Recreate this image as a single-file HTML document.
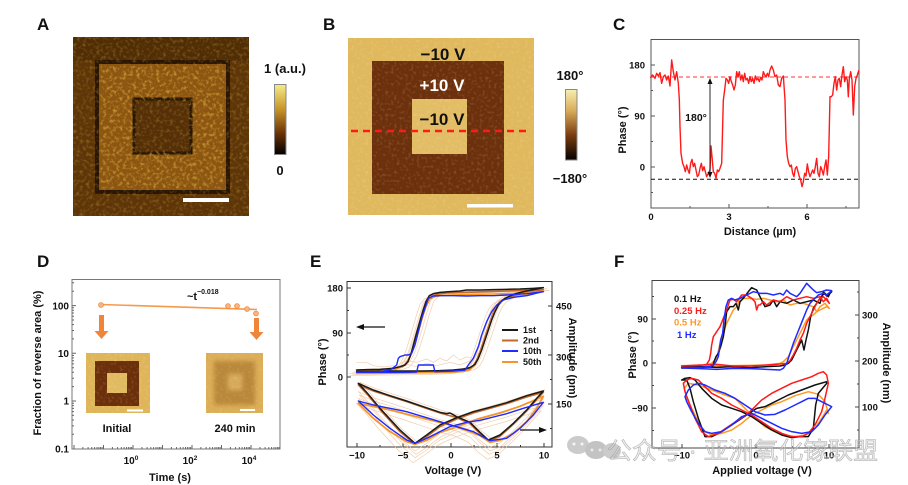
<!DOCTYPE html>
<html><head><meta charset="utf-8">
<style>
html,body{margin:0;padding:0;background:#fff;}
svg{display:block;}
.t{font-family:"Liberation Sans",Arial,"Noto Sans CJK SC",sans-serif;font-weight:bold;fill:#111;}
.ln{fill:none;stroke-linejoin:round;stroke-linecap:round;}
</style></head>
<body>
<svg width="908" height="485" viewBox="0 0 908 485" xmlns="http://www.w3.org/2000/svg">
<defs>
<linearGradient id="cbA" x1="0" y1="0" x2="0" y2="1">
<stop offset="0" stop-color="#f6ec88"/><stop offset="0.35" stop-color="#c8952a"/><stop offset="0.7" stop-color="#6a3206"/><stop offset="1" stop-color="#000"/>
</linearGradient>
<linearGradient id="cbB" x1="0" y1="0" x2="0" y2="1">
<stop offset="0" stop-color="#f7efb0"/><stop offset="0.3" stop-color="#d9ac5a"/><stop offset="0.65" stop-color="#7a3c10"/><stop offset="1" stop-color="#050200"/>
</linearGradient>
<filter id="nz" x="0" y="0" width="1" height="1">
<feTurbulence type="fractalNoise" baseFrequency="0.3" numOctaves="2" seed="7" result="t"/>
<feColorMatrix in="t" type="matrix" values="0 0 0 0 0.95  0 0 0 0 0.66  0 0 0 0 0.08  2.4 0 0 0 -1.15"/>
</filter>
<filter id="nz2" x="0" y="0" width="1" height="1">
<feTurbulence type="fractalNoise" baseFrequency="0.35" numOctaves="1" seed="3" result="t"/>
<feColorMatrix in="t" type="matrix" values="0 0 0 0 1  0 0 0 0 0.92  0 0 0 0 0.6  2.4 0 0 0 -1.2"/>
</filter>
<filter id="bl" x="-20%" y="-20%" width="140%" height="140%"><feGaussianBlur stdDeviation="2"/></filter>
<g id="dxm" stroke="#666" stroke-width="1">
<path d="M8.9 0v-2M14.1 0v-2M17.8 0v-2M20.6 0v-2M23 0v-2M24.9 0v-2M26.6 0v-2M28.1 0v-2"/>
</g>
<g id="dym" stroke="#666" stroke-width="1">
<path d="M0 -14.4h2M0 -22.8h2M0 -28.7h2M0 -33.3h2M0 -37.1h2M0 -40.3h2M0 -43.1h2M0 -45.5h2"/>
</g>
<polyline id="e2p" class="ln" vector-effect="non-scaling-stroke" points="50,294 150,292 250,291 330,289 365,287 385,282 400,272 410,255 420,230 430,200 440,170 450,140 460,112 470,92 480,80 495,70 520,62 560,52 610,44 560,46 500,48 440,50 380,52 320,54 290,58 275,64 262,80 252,110 242,145 232,180 222,212 212,240 200,262 188,275 170,281 130,285 50,288"/>
<polyline id="e2a" class="ln" vector-effect="non-scaling-stroke" points="55,330 100,348 150,364 200,380 250,397 300,414 350,428 390,446 420,476 448,498 480,484 520,448 560,408 590,374 610,352 560,366 500,386 450,400 400,414 350,432 300,455 260,485 225,508 180,470 120,404 80,356 55,330"/>
</defs>

<!-- ===== Panel A ===== -->
<text class="t" x="37" y="30" font-size="17">A</text>
<rect x="73" y="37" width="176" height="179" fill="#5e3508"/>
<rect x="73" y="37" width="176" height="24" fill="#4a2805" opacity="0.6"/>
<rect x="97" y="62" width="131" height="130" fill="#8c5512" stroke="#2a1503" stroke-width="4"/>
<rect x="134" y="99" width="57" height="54" fill="#553008" stroke="#2a1503" stroke-width="3"/>
<rect x="73" y="37" width="176" height="179" filter="url(#nz)" opacity="0.3"/>
<rect x="101" y="66" width="123" height="122" filter="url(#nz)" opacity="0.4"/>
<rect x="136" y="101" width="53" height="50" fill="#553008" opacity="0.55"/>
<rect x="183" y="198" width="46" height="4" fill="#fff"/>
<rect x="274.5" y="84.5" width="11.5" height="70" fill="url(#cbA)" stroke="#888" stroke-width="1"/>
<text class="t" x="285" y="73" font-size="13" text-anchor="middle">1 (a.u.)</text>
<text class="t" x="280" y="175" font-size="13" text-anchor="middle">0</text>

<!-- ===== Panel B ===== -->
<text class="t" x="323" y="30" font-size="17">B</text>
<rect x="348" y="38" width="186" height="177" fill="#e0b95e"/>
<rect x="372" y="61" width="132" height="133" fill="#6c300c"/>
<rect x="412" y="99" width="55" height="55" fill="#e2bd66"/>
<rect x="348" y="38" width="186" height="177" filter="url(#nz2)" opacity="0.2"/>
<line x1="351" y1="131" x2="527" y2="131" stroke="#ff1a1a" stroke-width="2.6" stroke-dasharray="7,5"/>
<text class="t" x="443" y="60" font-size="17" text-anchor="middle">−10 V</text>
<text class="t" x="442" y="91" font-size="17" text-anchor="middle" style="fill:#fff">+10 V</text>
<text class="t" x="442" y="125" font-size="17" text-anchor="middle">−10 V</text>
<rect x="467" y="204" width="46" height="3.5" fill="#fff"/>
<rect x="565.5" y="89.5" width="11.5" height="70.5" fill="url(#cbB)" stroke="#888" stroke-width="1"/>
<text class="t" x="570" y="80" font-size="13" text-anchor="middle">180°</text>
<text class="t" x="570" y="183" font-size="13" text-anchor="middle">−180°</text>

<!-- ===== Panel C ===== -->
<text class="t" x="613" y="30" font-size="17">C</text>
<rect x="651" y="39.5" width="208" height="168.5" fill="none" stroke="#555" stroke-width="1"/>
<path d="M651 65h4M651 116h4M651 167h4M651 90.5h2M651 141.5h2M651 192.5h2M651 39.5h2M651 208v-4M729 208v-4M807 208v-4M690 208v-2M768 208v-2M846 208v-2" stroke="#555" stroke-width="1" fill="none"/>
<line x1="651" y1="77" x2="859" y2="77" stroke="#ff3030" stroke-width="1" stroke-dasharray="4,3"/>
<line x1="651" y1="179.3" x2="859" y2="179.3" stroke="#111" stroke-width="1" stroke-dasharray="4,3"/>
<g transform="translate(600,0) scale(0.33333)">
<polyline class="ln" vector-effect="non-scaling-stroke" stroke="#ff1a1a" stroke-width="1.4" points="152,232 158,225 165,235 170,220 175,228 180,218 185,250 190,230 195,225 200,240 205,228 210,258 215,180 220,215 225,240 230,215 235,250 238,300 240,380 243,460 248,490 252,500 256,515 260,495 264,510 268,520 272,490 276,478 280,500 284,490 288,510 292,530 296,525 300,505 304,490 308,512 312,500 316,515 320,530 325,520 330,510 333,438 336,470 340,515 344,520 348,535 352,510 356,515 360,505 365,490 370,300 374,270 378,235 382,240 386,250 390,230 394,245 398,255 402,270 406,255 410,215 414,230 418,215 422,240 426,225 430,245 434,220 438,240 442,235 446,250 450,230 454,245 458,235 462,250 466,228 470,240 474,235 478,245 482,232 486,240 490,215 494,225 498,230 502,220 506,230 510,210 515,198 520,210 525,230 530,225 535,255 540,260 545,235 550,228 555,300 558,420 562,470 566,490 570,500 574,495 578,520 582,530 586,505 590,500 594,515 598,530 602,540 606,560 610,545 614,520 618,528 622,492 626,515 630,530 634,520 638,510 642,520 646,500 650,475 654,520 658,530 662,500 666,510 670,525 674,500 678,480 682,525 686,470 690,290 694,290 698,285 702,250 706,230 710,270 714,240 718,235 722,260 726,225 730,200 734,245 738,230 742,240 745,290 748,235 752,215 756,240 760,345 764,260 768,235 772,225 776,212"/>
</g>
<line x1="710" y1="80" x2="710" y2="176" stroke="#111" stroke-width="0.9"/>
<path d="M707.5 84L710 78L712.5 84ZM707.5 172L710 178L712.5 172Z" fill="#111"/>
<text class="t" x="696" y="121" font-size="10.5" text-anchor="middle">180°</text>
<text class="t" x="645" y="68.5" font-size="9.5" text-anchor="end">180</text>
<text class="t" x="645" y="119.5" font-size="9.5" text-anchor="end">90</text>
<text class="t" x="645" y="170.5" font-size="9.5" text-anchor="end">0</text>
<text class="t" x="651" y="220" font-size="9.5" text-anchor="middle">0</text>
<text class="t" x="729" y="220" font-size="9.5" text-anchor="middle">3</text>
<text class="t" x="807" y="220" font-size="9.5" text-anchor="middle">6</text>
<text class="t" x="626" y="130" font-size="11" text-anchor="middle" transform="rotate(-90 626 130)">Phase (°)</text>
<text class="t" x="760" y="235" font-size="11" text-anchor="middle">Distance (µm)</text>

<!-- ===== Panel D ===== -->
<text class="t" x="37" y="267" font-size="17">D</text>
<rect x="72" y="279.5" width="208" height="169.5" fill="none" stroke="#777" stroke-width="1"/>
<path d="M72 305.6h4M72 353.3h4M72 401h4M74 449v-4M103.5 449v-4M133 449v-4M162.5 449v-4M192 449v-4M221.5 449v-4M251 449v-4" stroke="#666" stroke-width="1"/>
<use href="#dym" x="72" y="448.7"/><use href="#dym" x="72" y="401"/><use href="#dym" x="72" y="353.3"/>
<path d="M72 291.2h2M72 282.8h2" stroke="#666" stroke-width="1"/>
<use href="#dxm" x="74" y="449"/><use href="#dxm" x="103.5" y="449"/><use href="#dxm" x="133" y="449"/><use href="#dxm" x="162.5" y="449"/><use href="#dxm" x="192" y="449"/><use href="#dxm" x="221.5" y="449"/><use href="#dxm" x="251" y="449"/>
<line x1="101" y1="304.5" x2="257" y2="309.5" stroke="#f59a4a" stroke-width="1.6"/>
<g fill="#f7b58a" stroke="#f08a40" stroke-width="0.8">
<circle cx="101" cy="305" r="2.4"/><circle cx="228" cy="306" r="2.4"/><circle cx="237" cy="306" r="2.4"/><circle cx="247" cy="309" r="2.4"/><circle cx="256" cy="313.5" r="2.4"/>
</g>
<path d="M99 315h5v16h4.5l-7 8l-7-8h4.5Z" fill="#f0853a"/>
<path d="M254 318h5v14h4.5l-7 8l-7-8h4.5Z" fill="#f0853a"/>
<text class="t" x="187" y="300" font-size="11">~t</text>
<text class="t" x="197" y="294" font-size="7">−0.018</text>
<rect x="86" y="353" width="64" height="60" fill="#dfb55a"/>
<rect x="95" y="361" width="44" height="45" fill="#6b2f0a"/>
<rect x="107" y="373" width="20" height="20" fill="#e2ba62"/>
<rect x="86" y="353" width="64" height="60" filter="url(#nz2)" opacity="0.2"/>
<rect x="127" y="409.5" width="16" height="2" fill="#fff"/>
<rect x="206" y="353" width="57" height="60" fill="#dcae58"/>
<g filter="url(#bl)">
<rect x="214" y="361" width="41" height="44" fill="#b9883a"/>
<rect x="228" y="374" width="14" height="16" fill="#d8ab5a"/>
</g>
<rect x="206" y="353" width="57" height="60" filter="url(#nz2)" opacity="0.15"/>
<rect x="240" y="409" width="15" height="2" fill="#fff"/>
<text class="t" x="117" y="432" font-size="11" text-anchor="middle">Initial</text>
<text class="t" x="235" y="432" font-size="11" text-anchor="middle">240 min</text>
<text class="t" x="69" y="309.5" font-size="10" text-anchor="end">100</text>
<text class="t" x="69" y="357" font-size="10" text-anchor="end">10</text>
<text class="t" x="69" y="404.5" font-size="10" text-anchor="end">1</text>
<text class="t" x="69" y="452.5" font-size="10" text-anchor="end">0.1</text>
<text class="t" x="131" y="464" font-size="10" text-anchor="middle">10<tspan font-size="6.5" dy="-4">0</tspan></text>
<text class="t" x="190" y="464" font-size="10" text-anchor="middle">10<tspan font-size="6.5" dy="-4">2</tspan></text>
<text class="t" x="249" y="464" font-size="10" text-anchor="middle">10<tspan font-size="6.5" dy="-4">4</tspan></text>
<text class="t" x="170" y="481" font-size="11" text-anchor="middle">Time (s)</text>
<text class="t" x="41" y="363" font-size="11" text-anchor="middle" transform="rotate(-90 41 363)">Fraction of reverse area (%)</text>

<!-- ===== Panel E ===== -->
<text class="t" x="310" y="267" font-size="17">E</text>
<rect x="347" y="281.5" width="205" height="165.5" fill="none" stroke="#333" stroke-width="1"/>
<path d="M347 288h4M347 333h4M347 377h4M347 310.5h2M347 355h2M552 306h-4M552 355h-4M552 404h-4M552 330.5h-2M552 379.5h-2M552 428.5h-2M357 447v-4M403 447v-4M451 447v-4M497 447v-4M544 447v-4M380 447v-2M427 447v-2M474 447v-2M520.5 447v-2" stroke="#333" stroke-width="1"/>
<g transform="translate(340,275) scale(0.33333)">
<g stroke="#eec29a" stroke-width="0.7" opacity="0.8">
<use href="#e2p" x="-12" y="4"/><use href="#e2p" x="10" y="-3"/><use href="#e2p" x="-22" y="8"/><use href="#e2p" x="18" y="2"/><use href="#e2p" x="-6" y="-4"/>
<use href="#e2a" x="0" y="20"/><use href="#e2a" x="0" y="40"/><use href="#e2a" x="-6" y="55"/><use href="#e2a" x="5" y="-8"/><use href="#e2a" x="3" y="30"/>
<polyline class="ln" vector-effect="non-scaling-stroke" points="180,265 200,258 230,262 260,252 280,262 300,250 320,258 340,240 360,255 380,245 400,250 420,230"/>
<polyline class="ln" vector-effect="non-scaling-stroke" points="50,262 80,262 100,272 130,276 160,272"/>
<polyline class="ln" vector-effect="non-scaling-stroke" points="200,268 230,275 260,265 290,272 330,262 360,270 390,258"/>
</g>
<use href="#e2p" stroke="#c4692c" stroke-width="1.6"/>
<use href="#e2a" stroke="#c4692c" stroke-width="1.6"/>
<polyline class="ln" vector-effect="non-scaling-stroke" stroke="#f5952a" stroke-width="1.5" points="50,296 200,294 330,292 370,290 390,284 403,272 412,255 422,230 432,200 442,170 452,140 462,112 472,92 482,80 497,72 530,65 570,57 610,50 570,52 520,55 460,57 400,58 340,60 300,62 285,65 270,72 258,95 248,125 238,160 228,195 218,225 208,250 195,268 180,278 150,284 100,288 50,290"/>
<polyline class="ln" vector-effect="non-scaling-stroke" stroke="#f5952a" stroke-width="1.8" points="55,385 100,430 150,470 200,500 225,508 260,496 300,472 350,456 420,430 480,414 540,394 610,364 590,400 560,440 520,475 480,496 450,502 420,482 380,466 330,450 250,430 150,405 55,385"/>
<polyline class="ln" vector-effect="non-scaling-stroke" stroke="#1a1a1a" stroke-width="1.5" points="50,290 100,289 150,288 200,288 250,288 300,287 340,285 370,282 390,278 405,268 415,250 425,225 435,195 445,165 455,135 465,110 475,90 485,78 495,70 510,63 530,55 560,48 590,42 610,38 580,40 540,42 500,43 460,44 420,45 380,45 360,48 330,50 300,52 280,56 268,62 258,80 248,110 238,145 228,180 220,210 212,240 204,260 195,270 180,275 160,280 120,283 80,284 50,285"/>
<polyline class="ln" vector-effect="non-scaling-stroke" stroke="#1a1a1a" stroke-width="1.5" points="55,325 100,345 150,362 200,378 250,395 300,412 320,416 330,414 350,425 390,442 420,472 445,495 480,480 520,445 560,405 590,370 610,348 560,362 500,383 450,397 400,410 350,428 300,450 260,480 225,505 180,465 120,400 80,352 55,325"/>
<polyline class="ln" vector-effect="non-scaling-stroke" stroke="#1f2bff" stroke-width="1.4" points="50,292 120,292 200,292 230,291 235,270 280,270 285,290 340,288 375,285 385,270 400,250 415,215 425,180 440,140 455,110 470,90 490,75 520,67 560,62 600,52 610,50 570,55 530,58 500,60 460,62 420,62 380,63 340,62 300,62 280,63 265,70 255,100 245,130 235,170 225,210 215,235 205,240 195,240 180,245 175,250 170,270 150,285 120,290 80,291 50,291"/>
<polyline class="ln" vector-effect="non-scaling-stroke" stroke="#1f2bff" stroke-width="1.4" points="55,378 100,420 150,460 200,495 225,505 260,490 300,470 330,455 380,442 420,436 460,426 500,416 550,400 610,382 580,420 540,460 500,490 450,497 400,470 350,455 300,440 250,425 200,410 150,400 100,390 55,378"/>
</g>
<line x1="362" y1="327" x2="385" y2="327" stroke="#111" stroke-width="1.2"/>
<path d="M356 327L364 324V330Z" fill="#111"/>
<line x1="520" y1="430" x2="541" y2="430" stroke="#111" stroke-width="1.2"/>
<path d="M547 430L539 427V433Z" fill="#111"/>
<line x1="502" y1="330" x2="518" y2="330" stroke="#1a1a1a" stroke-width="2"/>
<line x1="502" y1="340.5" x2="518" y2="340.5" stroke="#c4692c" stroke-width="2"/>
<line x1="502" y1="351" x2="518" y2="351" stroke="#1f2bff" stroke-width="2"/>
<line x1="502" y1="362" x2="518" y2="362" stroke="#f5952a" stroke-width="2"/>
<text class="t" x="523" y="333" font-size="9">1st</text>
<text class="t" x="523" y="343.5" font-size="9">2nd</text>
<text class="t" x="523" y="354" font-size="9">10th</text>
<text class="t" x="523" y="365" font-size="9">50th</text>
<text class="t" x="343" y="291.5" font-size="9.5" text-anchor="end">180</text>
<text class="t" x="343" y="336.5" font-size="9.5" text-anchor="end">90</text>
<text class="t" x="343" y="380.5" font-size="9.5" text-anchor="end">0</text>
<text class="t" x="556" y="309.5" font-size="9.5">450</text>
<text class="t" x="556" y="360.5" font-size="9.5">300</text>
<text class="t" x="556" y="407.5" font-size="9.5">150</text>
<text class="t" x="357" y="458.5" font-size="9.5" text-anchor="middle">−10</text>
<text class="t" x="403" y="458.5" font-size="9.5" text-anchor="middle">−5</text>
<text class="t" x="451" y="458.5" font-size="9.5" text-anchor="middle">0</text>
<text class="t" x="497" y="458.5" font-size="9.5" text-anchor="middle">5</text>
<text class="t" x="544" y="458.5" font-size="9.5" text-anchor="middle">10</text>
<text class="t" x="326" y="362" font-size="11" text-anchor="middle" transform="rotate(-90 326 362)">Phase (°)</text>
<text class="t" x="569" y="358" font-size="11" text-anchor="middle" transform="rotate(90 569 358)">Amplitude (pm)</text>
<text class="t" x="453" y="474" font-size="11" text-anchor="middle">Voltage (V)</text>

<!-- ===== Panel F ===== -->
<text class="t" x="614" y="267" font-size="17">F</text>
<rect x="652" y="280.5" width="207" height="167.5" fill="none" stroke="#444" stroke-width="1"/>
<path d="M652 319h4M652 363h4M652 408h4M652 296.5h2M652 341h2M652 385.5h2M652 430.5h2M859 315h-4M859 361h-4M859 407h-4M859 292h-2M859 338h-2M859 384h-2M859 430h-2M682 448v-4M756 448v-4M829 448v-4M719 448v-2M792.5 448v-2" stroke="#444" stroke-width="1"/>
<g transform="translate(600,240) scale(0.33333)">
<polyline class="ln" vector-effect="non-scaling-stroke" stroke="#ff9a20" stroke-width="1.5" points="245,377 300,376 350,378 400,377 450,376 500,375 540,370 550,365 565,350 575,330 585,310 600,280 610,260 620,240 630,230 640,225 650,215 660,210 670,205 680,200 688,205 675,190 660,200 650,215 640,200 625,195 610,190 590,190 570,195 550,180 530,185 510,180 490,175 470,178 450,175 430,175 420,175 410,200 400,210 390,230 380,250 372,270 365,290 358,320 352,345 345,360 335,370 300,378 245,378"/>
<polyline class="ln" vector-effect="non-scaling-stroke" stroke="#111" stroke-width="1.5" points="245,382 300,380 350,382 400,380 450,383 500,380 540,378 555,375 565,370 575,360 585,340 595,320 605,300 612,330 618,300 625,270 632,230 640,205 650,190 660,175 668,165 675,160 685,170 690,160 695,155 680,168 670,155 660,190 650,185 640,180 620,185 600,190 580,180 560,190 540,185 530,200 520,180 510,195 495,200 480,170 470,150 455,143 445,155 430,175 420,185 415,210 408,190 400,200 390,200 380,215 375,260 370,290 362,320 355,340 348,350 342,365 338,378 330,380 300,383 245,384"/>
<polyline class="ln" vector-effect="non-scaling-stroke" stroke="#ff1a1a" stroke-width="1.5" points="245,378 300,375 350,373 400,378 450,378 500,375 540,372 560,370 570,362 580,345 590,325 600,300 610,280 620,250 630,230 640,210 650,190 660,175 670,170 680,180 688,190 680,175 670,185 660,170 640,175 620,170 600,175 580,180 560,170 540,185 520,180 500,195 490,185 480,195 475,195 470,210 465,185 455,175 440,165 425,165 410,185 400,178 390,180 380,210 370,235 360,260 350,275 340,290 335,315 332,340 328,360 320,373 300,376 245,378"/>
<polyline class="ln" vector-effect="non-scaling-stroke" stroke="#1f2bff" stroke-width="1.5" points="245,384 300,386 350,388 400,385 450,386 500,388 540,390 550,385 560,370 570,340 580,310 590,285 600,260 610,235 620,210 630,190 640,180 655,165 670,160 680,165 695,152 680,150 665,155 650,158 640,150 630,140 620,130 610,145 600,160 590,170 580,165 570,160 560,150 550,165 540,160 520,165 500,160 480,160 460,155 440,165 420,175 405,180 395,175 385,180 378,200 372,240 368,280 362,300 355,350 348,365 340,375 330,380 300,382 260,383 245,383"/>
</g>
<g transform="translate(675,365) scale(0.33333)">
<polyline class="ln" vector-effect="non-scaling-stroke" stroke="#ff9a20" stroke-width="1.5" points="28,70 40,55 70,60 110,75 150,90 180,100 210,130 240,160 270,185 300,200 330,210 360,215 390,210 420,190 440,160 455,135 460,145 450,110 430,88 400,80 360,92 320,110 290,120 260,135 230,150 200,175 170,195 140,205 110,210 90,200 75,180 55,140 35,100 28,70"/>
<polyline class="ln" vector-effect="non-scaling-stroke" stroke="#111" stroke-width="1.5" points="20,45 30,40 45,38 60,45 80,70 110,100 140,120 170,130 200,140 230,155 260,175 290,195 320,210 350,218 375,215 400,215 415,190 422,120 430,85 455,55 455,50 420,60 380,75 340,90 300,110 270,125 245,130 230,140 200,160 170,180 140,200 110,215 90,215 70,160 55,110 45,70 35,45 20,45"/>
<polyline class="ln" vector-effect="non-scaling-stroke" stroke="#ff1a1a" stroke-width="1.5" points="25,55 35,45 50,40 70,45 90,65 110,85 140,100 170,120 200,135 230,150 260,170 290,190 320,205 350,215 380,215 400,205 420,180 440,140 450,100 460,55 455,30 445,20 430,25 410,35 380,45 350,55 320,70 290,85 260,105 240,125 220,145 190,165 160,185 130,205 100,215 80,200 60,160 45,120 30,80 25,55"/>
<polyline class="ln" vector-effect="non-scaling-stroke" stroke="#1f2bff" stroke-width="1.5" points="30,95 40,75 55,60 70,55 90,60 120,75 150,85 180,100 210,120 240,140 270,150 300,148 330,135 360,120 380,110 400,100 420,100 440,110 460,120 470,125 450,150 430,180 410,200 380,205 350,200 320,190 290,175 260,160 230,145 200,155 170,180 140,200 110,205 90,200 70,175 50,140 35,110 30,95"/>
</g>
<text class="t" x="674" y="302" font-size="9.5">0.1 Hz</text>
<text class="t" x="674" y="314" font-size="9.5" style="fill:#ff1a1a">0.25 Hz</text>
<text class="t" x="674" y="325.5" font-size="9.5" style="fill:#ff9a20">0.5 Hz</text>
<text class="t" x="677" y="338" font-size="9.5" style="fill:#1f2bff">1 Hz</text>
<text class="t" x="648" y="322.5" font-size="9.5" text-anchor="end">90</text>
<text class="t" x="648" y="366.5" font-size="9.5" text-anchor="end">0</text>
<text class="t" x="648" y="411.5" font-size="9.5" text-anchor="end">−90</text>
<text class="t" x="862" y="318.5" font-size="9.5">300</text>
<text class="t" x="862" y="364.5" font-size="9.5">200</text>
<text class="t" x="862" y="410.5" font-size="9.5">100</text>
<text class="t" x="682" y="458.5" font-size="9.5" text-anchor="middle">−10</text>
<text class="t" x="756" y="458.5" font-size="9.5" text-anchor="middle">0</text>
<text class="t" x="829" y="458.5" font-size="9.5" text-anchor="middle">10</text>
<text class="t" x="636" y="355" font-size="11" text-anchor="middle" transform="rotate(-90 636 355)">Phase (°)</text>
<text class="t" x="883" y="363" font-size="11" text-anchor="middle" transform="rotate(90 883 363)">Amplitude (nm)</text>
<text class="t" x="762" y="474" font-size="11" text-anchor="middle">Applied voltage (V)</text>

<!-- ===== watermark ===== -->
<g opacity="0.6">
<ellipse cx="578" cy="445" rx="11" ry="9" fill="#aaa"/>
<ellipse cx="596" cy="450" rx="11" ry="9" fill="#9c9c9c"/>
<ellipse cx="612" cy="451" rx="9" ry="8" fill="#aaa"/>
<circle cx="574" cy="444" r="1.5" fill="#eee"/><circle cx="582" cy="444" r="1.5" fill="#eee"/>
<circle cx="592" cy="450" r="1.5" fill="#ddd"/><circle cx="600" cy="450" r="1.5" fill="#ddd"/>
</g>
<text x="607" y="459" font-size="24" textLength="271" lengthAdjust="spacingAndGlyphs" style="font-family:'Liberation Sans','Noto Sans CJK SC',sans-serif;fill:rgba(215,215,215,0.45);stroke:rgba(150,150,150,0.8);stroke-width:0.5;">公众号 · 亚洲氧化镓联盟</text>
</svg>
</body></html>
